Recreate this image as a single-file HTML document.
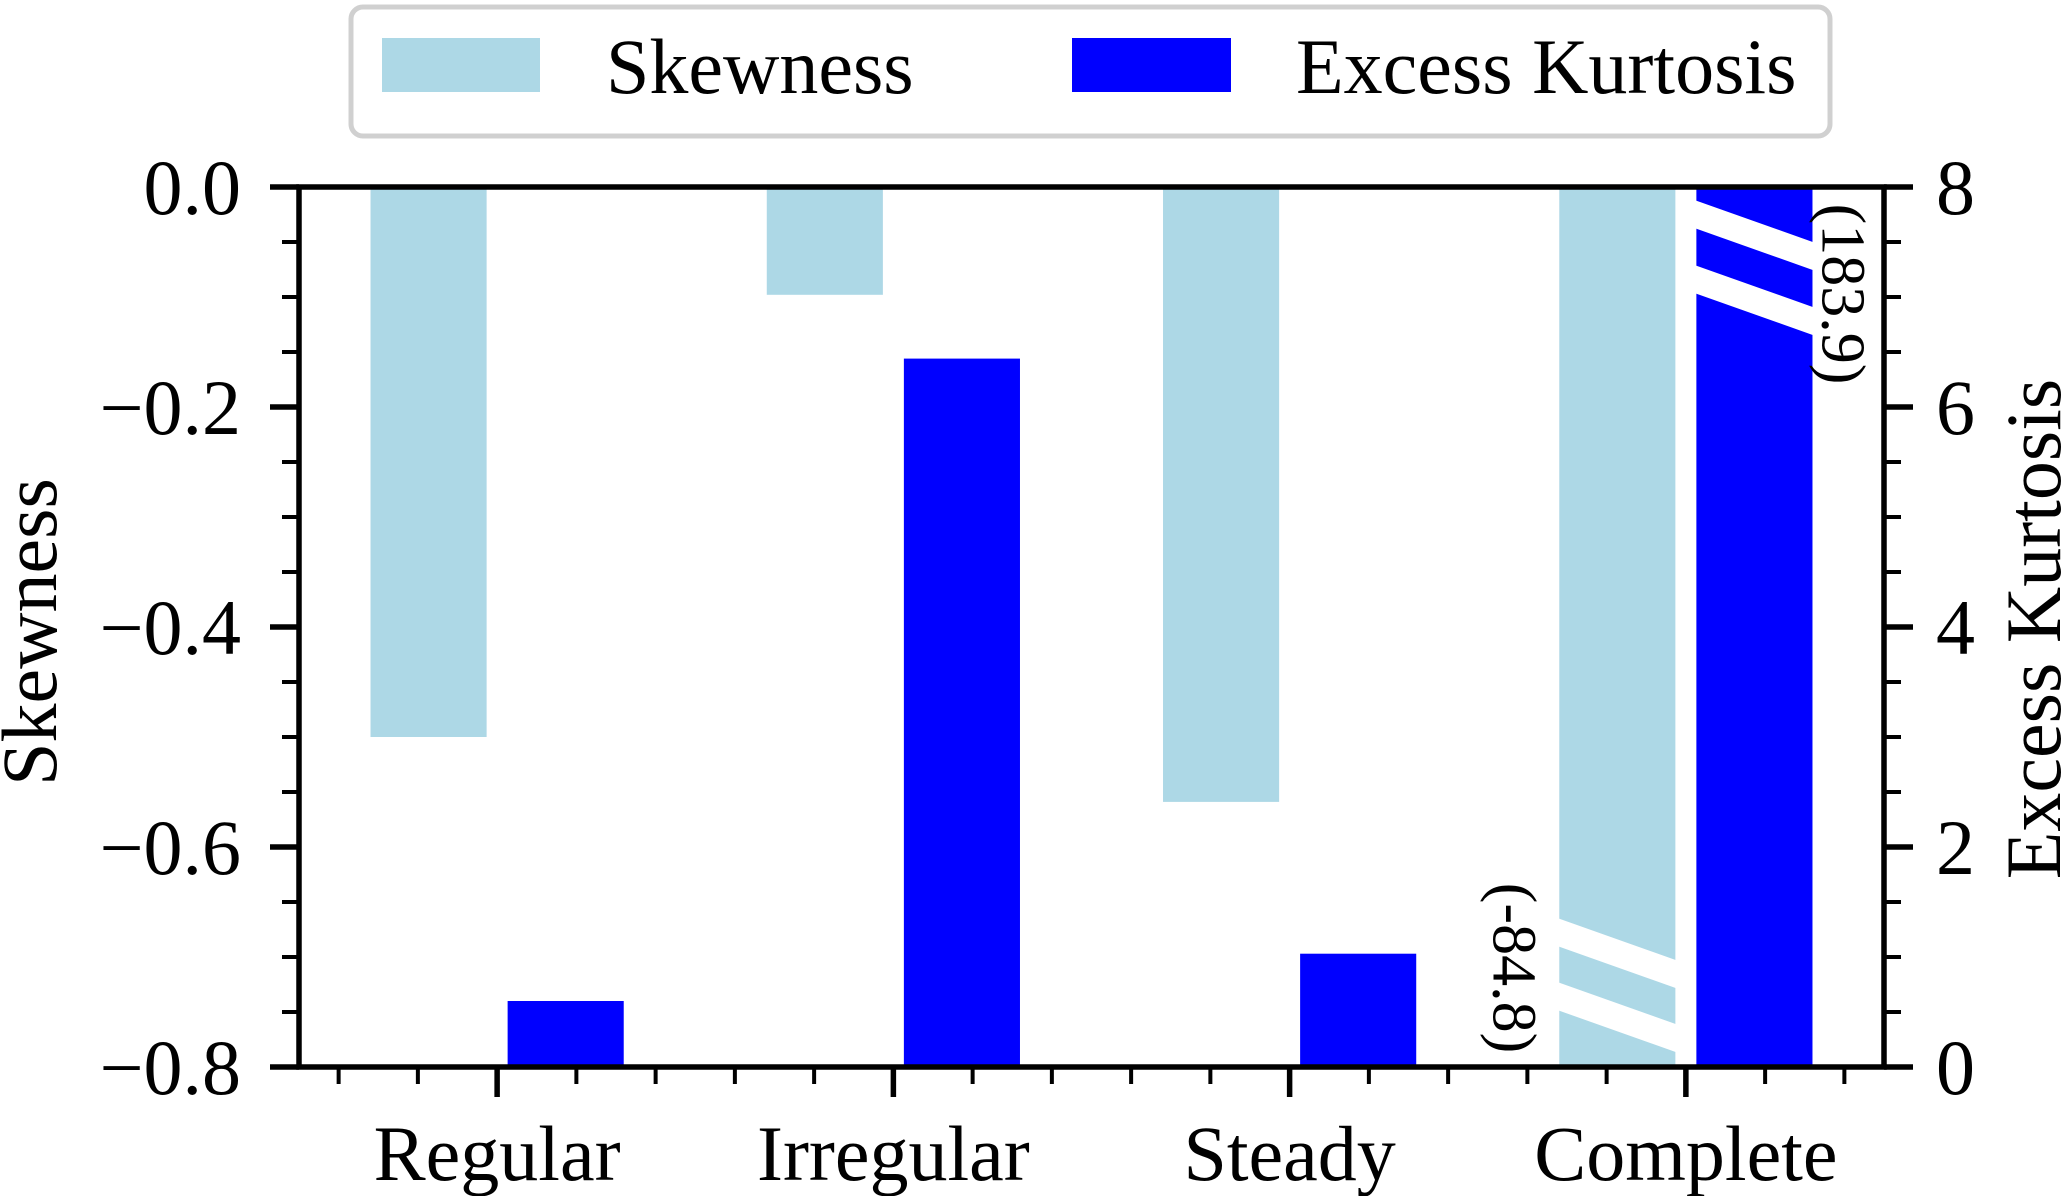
<!DOCTYPE html>
<html><head><meta charset="utf-8"><style>
html,body{margin:0;padding:0;background:#fff;}
svg{display:block;font-family:"Liberation Serif",serif;}
</style></head><body>
<svg id="chart" width="2067" height="1196" viewBox="0 0 2067 1196" xmlns="http://www.w3.org/2000/svg">
<g id="bars"></g>
<g id="axes"></g>
<g>
<rect x="351" y="7" width="1479" height="129" rx="12" fill="#fff" stroke="#d0d0d0" stroke-width="5"/>
<rect x="382" y="38" width="158" height="54" fill="#add8e6"/>
<text x="606" y="93" font-size="78">Skewness</text>
<rect x="1072" y="38" width="159" height="54" fill="#0000ff"/>
<text x="1296" y="93" font-size="78">Excess Kurtosis</text>
</g>
<text transform="translate(56,632) rotate(-90)" text-anchor="middle" font-size="78">Skewness</text>
<text transform="translate(2060,629) rotate(-90)" text-anchor="middle" font-size="78">Excess Kurtosis</text>
</svg>
<script>
const categories = ["Regular","Irregular","Steady","Complete"];
const skewValues = [-0.5, -0.098, -0.559, -84.8];
const kurtValues = [0.6, 6.44, 1.03, 183.9];
const leftTicks = ["0.0","\u22120.2","\u22120.4","\u22120.6","\u22120.8"];
const leftTickValues = [0, -0.2, -0.4, -0.6, -0.8];
const rightTicks = ["0","2","4","6","8"];
const rightTickValues = [0, 2, 4, 6, 8];

const NS = "http://www.w3.org/2000/svg";
const L = 299, R = 1884, T = 187, B = 1067;
const xScale = v => L + (v + 0.5) / 4 * (R - L);
const ySkew = v => T + (Math.max(v, -0.8) / -0.8) * (B - T);
const yKurt = v => B - (Math.min(v, 8) / 8) * (B - T);
const bw = 0.293, off = 0.173;
const barsG = document.getElementById('bars');
const axesG = document.getElementById('axes');
function mk(tag, attrs, parent) {
  const e = document.createElementNS(NS, tag);
  for (const k in attrs) e.setAttribute(k, attrs[k]);
  parent.appendChild(e);
  return e;
}
function stripes(x0, x1, yTops, parent) {
  const slope = 0.355, th = 28;
  yTops.forEach(y => {
    const p = mk('polygon', {points: `${x0-2},${y} ${x1+2},${y+slope*(x1-x0+4)} ${x1+2},${y+slope*(x1-x0+4)+th} ${x0-2},${y+th}`, fill: '#fff'}, parent);
    
    
  });
}
categories.forEach((c, i) => {
  const sx0 = xScale(i - off - bw / 2), sx1 = xScale(i - off + bw / 2);
  const sy = ySkew(skewValues[i]);
  const r1 = mk('rect', {x: sx0, y: T, width: sx1 - sx0, height: sy - T, fill: '#add8e6'}, barsG);
  
  
  const kx0 = xScale(i + off - bw / 2), kx1 = xScale(i + off + bw / 2);
  const ky = yKurt(kurtValues[i]);
  const r2 = mk('rect', {x: kx0, y: ky, width: kx1 - kx0, height: B - ky, fill: '#0000ff'}, barsG);
  
  
  if (skewValues[i] < -0.8) {
    stripes(sx0, sx1, [B - 149, B - 85], barsG);
    const t = mk('text', {transform: `translate(${sx0 - 66},${B - 99}) rotate(90)`, 'text-anchor': 'middle', 'font-size': 62}, barsG);
    t.textContent = '(' + skewValues[i] + ')';
    
    
  }
  if (kurtValues[i] > 8) {
    stripes(kx0, kx1, [T + 13, T + 78], barsG);
    const t = mk('text', {transform: `translate(${kx1 + 10},${T + 107}) rotate(90)`, 'text-anchor': 'middle', 'font-size': 62}, barsG);
    t.textContent = '(' + kurtValues[i] + ')';
    
    
  }
  const xl = mk('text', {x: xScale(i), y: 1180, 'text-anchor': 'middle', 'font-size': 78}, axesG);
  xl.textContent = c;
  
  
});
const frame = mk('rect', {x: L, y: T, width: R - L, height: B - T, fill: 'none', stroke: '#000', 'stroke-width': 5.5}, axesG);


for (let k = -2; k <= 17; k++) {
  const v = k * 0.2;
  if (v < -0.5 || v > 3.5) continue;
  const major = k % 5 === 0;
  const ln = mk('line', {x1: xScale(v), x2: xScale(v), y1: B, y2: B + (major ? 30 : 17), stroke: '#000', 'stroke-width': major ? 5.5 : 4}, axesG);
  
  
}
for (let k = 0; k <= 16; k++) {
  const v = -k * 0.05, y = ySkew(v), major = k % 4 === 0;
  const ln = mk('line', {x1: L - (major ? 29 : 17), x2: L, y1: y, y2: y, stroke: '#000', 'stroke-width': major ? 5.5 : 4}, axesG);
  
  
  const yr = yKurt(k * 0.5);
  const ln2 = mk('line', {x1: R, x2: R + (major ? 29 : 17), y1: yr, y2: yr, stroke: '#000', 'stroke-width': major ? 5.5 : 4}, axesG);
  
  
}
leftTicks.forEach((s, i) => {
  const t = mk('text', {x: 241, y: ySkew(leftTickValues[i]) + 27, 'text-anchor': 'end', 'font-size': 78}, axesG);
  t.textContent = s;
  
  
});
rightTicks.forEach((s, i) => {
  const t = mk('text', {x: 1936, y: yKurt(rightTickValues[i]) + 27, 'font-size': 78}, axesG);
  t.textContent = s;
  
  
});
</script>
</body></html>
